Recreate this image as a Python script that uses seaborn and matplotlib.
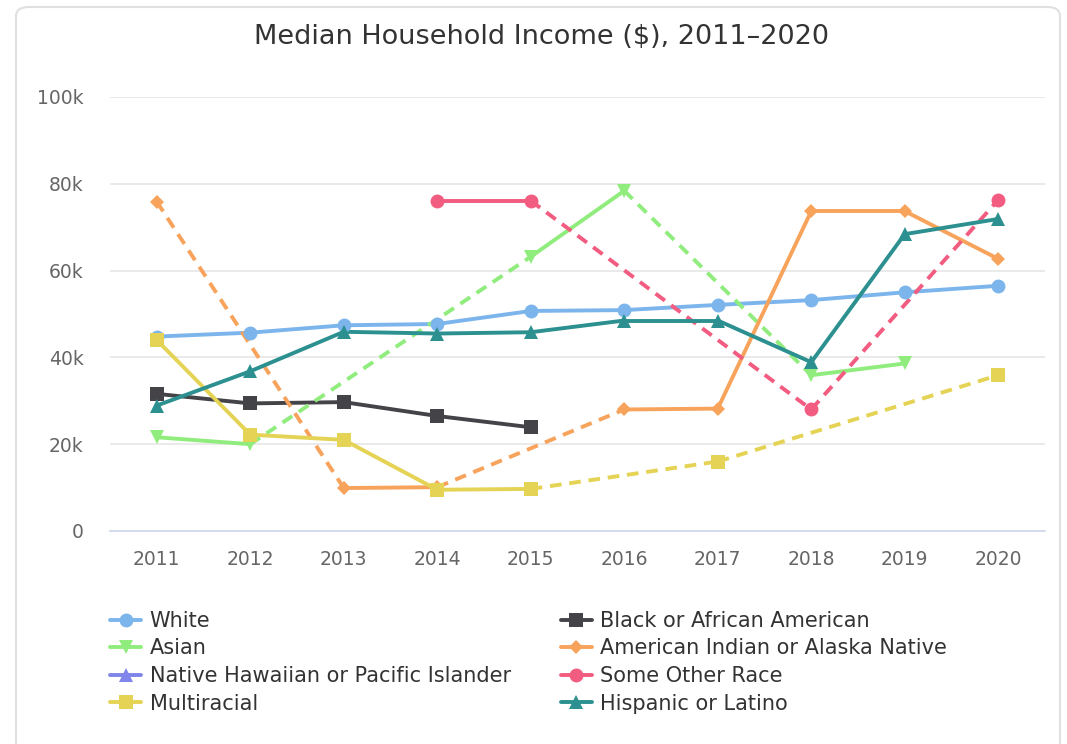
import numpy as np
import pandas as pd
import seaborn as sns
import matplotlib.pyplot as plt
from matplotlib.lines import Line2D
from matplotlib.patches import FancyBboxPatch

# Datos (NaN = sin dato)
years = [2011, 2012, 2013, 2014, 2015, 2016, 2017, 2018, 2019, 2020]
nan = np.nan
white = [44.8, 45.7, 47.4, 47.7, 50.7, 50.9, 52.1, 53.2, 55.0, 56.5]
black = [31.6, 29.4, 29.7, 26.5, 23.9, nan, nan, nan, nan, nan]
asian = [21.6, 20.0, nan, nan, 63.2, 78.4, nan, 35.9, 38.6, nan]
am_indian = [75.9, nan, 9.9, 10.1, nan, 28.0, 28.2, 73.7, 73.7, 62.7]
nh_pacific = [nan] * 10
other_race = [nan, nan, nan, 76.1, 76.1, nan, nan, 28.0, nan, 76.3]
multiracial = [44.0, 22.2, 21.0, 9.5, 9.7, nan, 16.0, nan, nan, 35.9]
hispanic = [28.9, 36.8, 45.9, 45.5, 45.8, 48.5, 48.5, 38.9, 68.4, 71.9]

series = {
    'White': white,
    'Black or African American': black,
    'Asian': asian,
    'American Indian or Alaska Native': am_indian,
    'Native Hawaiian or Pacific Islander': nh_pacific,
    'Some Other Race': other_race,
    'Multiracial': multiracial,
    'Hispanic or Latino': hispanic,
}
colores = {
    'White': '#7cb5ec',
    'Black or African American': '#434348',
    'Asian': '#90ed7d',
    'American Indian or Alaska Native': '#f7a35c',
    'Native Hawaiian or Pacific Islander': '#8085e9',
    'Some Other Race': '#f15c80',
    'Multiracial': '#e4d354',
    'Hispanic or Latino': '#2b908f',
}
marcadores = {
    'White': 'o',
    'Black or African American': 's',
    'Asian': 'v',
    'American Indian or Alaska Native': 'D',
    'Native Hawaiian or Pacific Islander': '^',
    'Some Other Race': 'o',
    'Multiracial': 's',
    'Hispanic or Latino': '^',
}
tam_marcador = {'o': 10, 's': 10, 'v': 10, '^': 10, 'D': 7}

# Armar tabla larga con segmentos: continuos (solido) y huecos (punteado)
filas = []
puntos = []
unidad = 0
for nombre, valores in series.items():
    validos = [(y, v * 1000) for y, v in zip(years, valores) if not np.isnan(v)]
    for y, v in validos:
        puntos.append({'race': nombre, 'year': y, 'income': v})
    for (y0, v0), (y1, v1) in zip(validos[:-1], validos[1:]):
        tipo = 'solid' if years.index(y1) - years.index(y0) == 1 else 'gap'
        unidad += 1
        filas.append({'race': nombre, 'year': y0, 'income': v0, 'kind': tipo, 'unit': unidad})
        filas.append({'race': nombre, 'year': y1, 'income': v1, 'kind': tipo, 'unit': unidad})

segs = pd.DataFrame(filas)
pts = pd.DataFrame(puntos)

sns.set_style('white')
plt.rcParams['font.family'] = ['DejaVu Sans']

fig = plt.figure(figsize=(10.67, 7.44), dpi=100)
ax = fig.add_axes([110 / 1067, 1 - 531 / 744, 935 / 1067, 434 / 744])

# borde redondeado del contenedor
borde = FancyBboxPatch((16 / 1067, -0.05), 1044 / 1067, 1.05 - 7 / 744,
                       boxstyle='round,pad=0,rounding_size=0.012',
                       transform=fig.transFigure, fill=False,
                       edgecolor='#e0e0e0', linewidth=1.5, zorder=0)
fig.patches.append(borde)

sns.lineplot(data=segs, x='year', y='income', hue='race', style='kind',
             units='unit', estimator=None, palette=colores,
             dashes={'solid': '', 'gap': (3, 2)}, linewidth=2.8,
             legend=False, ax=ax, zorder=3)

for nombre in series:
    sub = pts[pts['race'] == nombre]
    if sub.empty:
        continue
    m = marcadores[nombre]
    ax.plot(sub['year'], sub['income'], linestyle='none', marker=m,
            markersize=tam_marcador[m], color=colores[nombre],
            markeredgewidth=0, zorder=4)

ax.set_xlim(2010.5, 2020.5)
ax.set_ylim(0, 100000)
ax.set_xticks(years)
ax.set_xticklabels([str(y) for y in years])
ax.set_yticks([0, 20000, 40000, 60000, 80000, 100000])
ax.set_yticklabels(['0', '20k', '40k', '60k', '80k', '100k'])
ax.tick_params(axis='both', length=0, labelsize=13.5, colors='#666666')
ax.tick_params(axis='x', pad=14)
ax.tick_params(axis='y', pad=19)
ax.grid(axis='y', color='#e6e6e6', linewidth=1.2)
ax.set_axisbelow(True)
for lado in ['top', 'right', 'left']:
    ax.spines[lado].set_visible(False)
ax.spines['bottom'].set_color('#ccd6eb')
ax.spines['bottom'].set_linewidth(1.2)
ax.set_xlabel('')
ax.set_ylabel('')

fig.text(541 / 1067, 1 - 37 / 744, 'Median Household Income ($), 2011\u20132020',
         ha='center', va='center', fontsize=19.5, color='#333333')

# Leyenda en dos columnas
orden = ['White', 'Asian', 'Native Hawaiian or Pacific Islander', 'Multiracial',
         'Black or African American', 'American Indian or Alaska Native',
         'Some Other Race', 'Hispanic or Latino']
manejadores = [Line2D([0], [0], color=colores[n], linewidth=2.8, marker=marcadores[n],
                      markersize=tam_marcador[marcadores[n]], markeredgewidth=0)
               for n in orden]
fig.legend(manejadores, orden, ncol=2, loc='upper left',
           bbox_to_anchor=(110 / 1067, 1 - 611 / 744), frameon=False,
           borderpad=0, borderaxespad=0,
           fontsize=15, labelcolor='#333333', handlelength=1.5,
           handletextpad=0.4, columnspacing=2.4, labelspacing=0.36)

fig.savefig('out.png', dpi=100)
